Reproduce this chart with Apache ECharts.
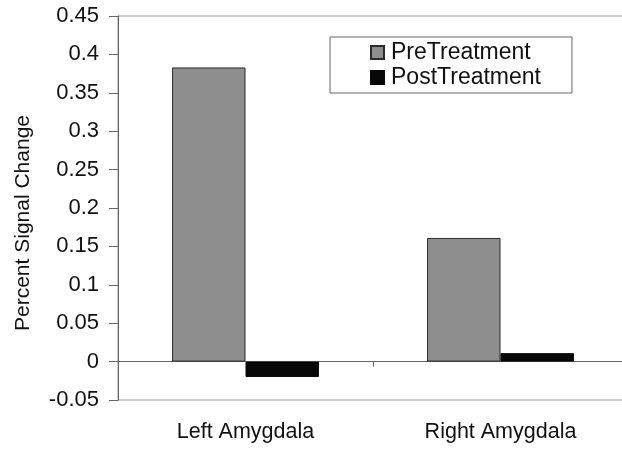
<!DOCTYPE html>
<html>
<head>
<meta charset="utf-8">
<script src="https://cdn.jsdelivr.net/npm/echarts@6/dist/echarts.min.js"></script>
<style>
html,body{margin:0;padding:0;background:#fff;overflow:hidden;}
#chart{width:622px;height:458px;}
</style>
</head>
<body>
<div id="chart"></div>
<script>
const categories = ['Left Amygdala', 'Right Amygdala'];
const preTreatment = [0.383, 0.161];
const postTreatment = [-0.02, 0.011];
const seriesNames = ['PreTreatment', 'PostTreatment'];
const yTicks = { min: -0.05, max: 0.45, interval: 0.05 };

const FONT = 'Liberation Sans, Arial, Helvetica, sans-serif';
const chart = echarts.init(document.getElementById('chart'), null, { renderer: 'canvas' });
chart.setOption({
  backgroundColor: '#fff',
  animation: false,
  textStyle: { fontFamily: FONT },
  grid: {
    left: 118, width: 510, top: 16, height: 384,
    outerBoundsMode: 'none',
    containLabel: false,
    show: true, borderColor: '#999', borderWidth: 1, backgroundColor: 'transparent'
  },
  legend: {
    orient: 'vertical',
    left: 330, top: 37,
    padding: [4, 31, 4, 40],
    itemGap: 2,
    itemWidth: 13, itemHeight: 13,
    backgroundColor: '#fff',
    borderColor: '#666', borderWidth: 1,
    icon: 'rect',
    textStyle: { fontSize: 23, color: '#111', fontFamily: FONT, padding: [0, 0, 0, 2] },
    data: seriesNames
  },
  xAxis: [
    {
      type: 'category',
      data: categories,
      axisLine: { show: true, onZero: true, lineStyle: { color: '#666', width: 1 } },
      axisTick: { show: true, alignWithLabel: false, length: 5, lineStyle: { color: '#666' } },
      axisLabel: { show: false },
      splitLine: { show: false }
    },
    {
      type: 'category',
      data: categories,
      position: 'bottom',
      axisLine: { show: false, onZero: false },
      axisTick: { show: false },
      axisLabel: { show: true, fontSize: 21.5, color: '#111', margin: 21, fontFamily: FONT },
      splitLine: { show: false }
    }
  ],
  yAxis: {
    type: 'value',
    min: yTicks.min, max: yTicks.max, interval: yTicks.interval,
    name: 'Percent Signal Change',
    nameLocation: 'middle',
    nameGap: 84,
    nameTextStyle: { fontSize: 21, color: '#111', fontFamily: FONT, padding: [0, 30, 0, 0] },
    axisLine: { show: true, lineStyle: { color: '#666', width: 1 } },
    axisTick: { show: true, inside: false, length: 9, lineStyle: { color: '#666' } },
    axisLabel: {
      fontSize: 22, color: '#111', margin: 19, fontFamily: FONT,
      formatter: v => String(parseFloat(v.toFixed(2)))
    },
    splitLine: { show: false }
  },
  series: [
    {
      name: seriesNames[0], type: 'bar', xAxisIndex: 0,
      data: preTreatment,
      barGap: '0%', barCategoryGap: '42.4%',
      itemStyle: { color: '#8e8e8e', borderColor: '#2a2a2a', borderWidth: 1 }
    },
    {
      name: seriesNames[1], type: 'bar', xAxisIndex: 0,
      data: postTreatment,
      barGap: '0%', barCategoryGap: '42.4%',
      itemStyle: { color: '#080808', borderColor: '#080808', borderWidth: 1 }
    }
  ]
});
</script>
</body>
</html>
